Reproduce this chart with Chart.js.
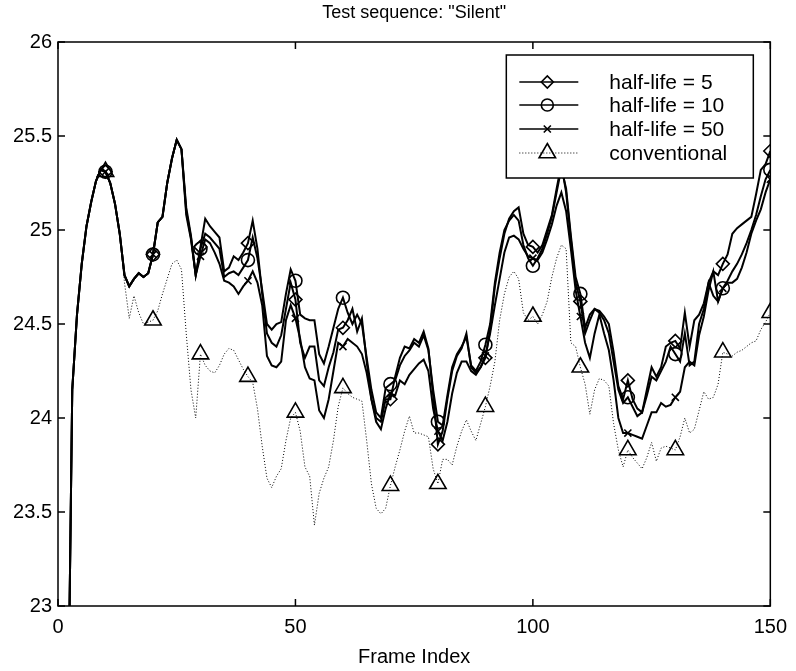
<!DOCTYPE html>
<html>
<head>
<meta charset="utf-8">
<script src="https://cdn.jsdelivr.net/npm/chart.js@4.4.0/dist/chart.umd.min.js"></script>
<style>
html, body { margin: 0; padding: 0; background: #fff; }
</style>
</head>
<body>
<canvas id="psnrChart" width="796" height="671"></canvas>
<script>
// frame 1..150, values
const frameIndex = Array.from({ length: 150 }, (_, i) => i + 1);
const markerFrames = [10, 20, 30, 40, 50, 60, 70, 80, 90, 100, 110, 120, 130, 140, 150];
const xTicks = [0, 50, 100, 150];
const yTicks = [23, 23.5, 24, 24.5, 25, 25.5, 26];

const halfLife5 = [
  21.0, 22.1, 24.15, 24.55, 24.82, 25.02, 25.15, 25.26, 25.32, 25.31,
  25.25, 25.14, 24.98, 24.76, 24.70, 24.74, 24.77, 24.75, 24.77, 24.87,
  25.04, 25.07, 25.25, 25.38, 25.48, 25.43, 25.12, 24.97, 24.76, 24.91,
  25.06, 25.02, 24.99, 24.96, 24.78, 24.80, 24.86, 24.84, 24.88, 24.93,
  25.05, 24.90, 24.66, 24.45, 24.40, 24.38, 24.44, 24.58, 24.72, 24.63,
  24.40, 24.32, 24.38, 24.38, 24.20, 24.17, 24.27, 24.35, 24.47, 24.48,
  24.52, 24.58, 24.46, 24.53, 24.30, 24.10, 24.00, 23.98, 24.10, 24.10,
  24.22, 24.32, 24.38, 24.37, 24.42, 24.40, 24.46, 24.37, 24.12, 23.86,
  23.93, 24.10, 24.25, 24.33, 24.37, 24.45, 24.27, 24.24, 24.27, 24.32,
  24.47, 24.70, 24.85, 24.98, 25.06, 25.10, 25.12, 24.98, 24.92, 24.91,
  24.88, 24.92, 25.00, 25.08, 25.22, 25.35, 25.20, 24.95, 24.72, 24.62,
  24.45, 24.52, 24.58, 24.57, 24.54, 24.50, 24.35, 24.17, 24.10, 24.20,
  24.10, 24.05, 24.03, 24.15, 24.27, 24.22, 24.27, 24.38, 24.40, 24.41,
  24.37, 24.56, 24.38, 24.52, 24.55, 24.61, 24.72, 24.78, 24.76, 24.82,
  24.87, 24.98, 25.01, 25.03, 25.05, 25.07, 25.19, 25.32, 25.35, 25.42
];

const halfLife10 = [
  21.0, 22.1, 24.15, 24.55, 24.82, 25.02, 25.15, 25.26, 25.32, 25.31,
  25.25, 25.14, 24.98, 24.76, 24.70, 24.74, 24.77, 24.75, 24.77, 24.87,
  25.04, 25.07, 25.25, 25.38, 25.48, 25.43, 25.10, 24.96, 24.76, 24.90,
  24.98, 24.96, 24.93, 24.90, 24.75, 24.77, 24.78, 24.76, 24.80, 24.84,
  24.96, 24.85, 24.68, 24.50, 24.47, 24.50, 24.51, 24.66, 24.79, 24.73,
  24.55, 24.53, 24.52, 24.52, 24.34, 24.29, 24.38, 24.48, 24.58, 24.64,
  24.56, 24.50, 24.55, 24.50, 24.32, 24.15, 24.03, 24.00, 24.16, 24.18,
  24.20, 24.28, 24.33, 24.36, 24.40, 24.38, 24.44, 24.36, 24.15, 23.98,
  23.96, 24.12, 24.27, 24.34, 24.38, 24.43, 24.28, 24.25, 24.30, 24.39,
  24.50, 24.72, 24.88, 25.00, 25.05, 25.08, 25.05, 24.92, 24.85, 24.81,
  24.85, 24.90, 24.98, 25.07, 25.20, 25.33, 25.22, 24.97, 24.75, 24.66,
  24.48, 24.55, 24.58, 24.56, 24.52, 24.45, 24.30, 24.15, 24.08, 24.11,
  24.06, 24.01, 24.03, 24.12, 24.22, 24.20, 24.25, 24.30, 24.38, 24.34,
  24.30, 24.45, 24.28, 24.30, 24.50, 24.58, 24.72, 24.65, 24.62, 24.69,
  24.73, 24.78, 24.82, 24.87, 24.93, 25.00, 25.08, 25.18, 25.27, 25.32
];

const halfLife50 = [
  21.0, 22.1, 24.15, 24.55, 24.82, 25.02, 25.15, 25.26, 25.32, 25.31,
  25.25, 25.14, 24.98, 24.76, 24.70, 24.74, 24.77, 24.75, 24.77, 24.87,
  25.04, 25.07, 25.25, 25.38, 25.48, 25.43, 25.08, 24.95, 24.76, 24.86,
  24.95, 24.93, 24.88, 24.82, 24.73, 24.72, 24.70, 24.66, 24.70, 24.73,
  24.78, 24.72, 24.60, 24.33, 24.28, 24.27, 24.30, 24.52, 24.60, 24.53,
  24.42, 24.27, 24.21, 24.20, 24.04, 24.00, 24.10, 24.25, 24.40, 24.38,
  24.42, 24.40, 24.38, 24.34, 24.24, 24.10, 23.98, 23.94, 24.05, 24.13,
  24.12, 24.20, 24.18, 24.23, 24.26, 24.29, 24.31, 24.25, 24.05, 23.93,
  23.88, 23.98, 24.13, 24.24, 24.30, 24.30, 24.25, 24.23, 24.27, 24.33,
  24.45, 24.60, 24.74, 24.88, 24.96, 24.97, 24.95, 24.90, 24.86, 24.85,
  24.84, 24.88, 24.95, 25.03, 25.13, 25.20, 25.10, 24.90, 24.68, 24.54,
  24.40, 24.32, 24.45, 24.55, 24.45, 24.36, 24.20, 24.00, 23.92, 23.92,
  23.91, 23.90, 23.89, 23.96, 24.03, 24.03, 24.08, 24.06, 24.07, 24.11,
  24.14, 24.27, 24.30, 24.28, 24.44, 24.54, 24.68, 24.78, 24.62, 24.69,
  24.72, 24.72, 24.74, 24.80, 24.88, 24.98, 25.05, 25.11, 25.20, 25.27
];

const conventional = [
  21.0, 22.1, 24.15, 24.55, 24.82, 25.02, 25.15, 25.26, 25.32, 25.31,
  25.25, 25.14, 24.98, 24.72, 24.53, 24.65, 24.56, 24.50, 24.51, 24.52,
  24.57, 24.66, 24.74, 24.82, 24.84, 24.79, 24.45, 24.15, 24.00, 24.34,
  24.28, 24.25, 24.24, 24.28, 24.34, 24.37, 24.36, 24.31, 24.26, 24.22,
  24.19, 24.05, 23.85, 23.68, 23.63, 23.69, 23.73, 23.88, 24.00, 24.03,
  23.93, 23.74, 23.69, 23.43, 23.60, 23.68, 23.74, 23.88, 24.06, 24.16,
  24.13, 24.11, 24.10, 24.09, 23.88, 23.65, 23.52, 23.49, 23.52, 23.64,
  23.74, 23.83, 23.93, 24.01, 23.92, 23.92, 23.91, 23.90, 23.73, 23.65,
  23.78, 23.78, 23.75, 23.85, 23.93, 23.99, 23.93, 23.88, 23.97, 24.06,
  24.17, 24.30, 24.52, 24.66, 24.75, 24.78, 24.74, 24.56, 24.52, 24.54,
  24.50, 24.55, 24.62, 24.75, 24.85, 24.92, 24.90, 24.40, 24.38, 24.27,
  24.18, 24.02, 24.15, 24.21, 24.20, 24.17, 23.97, 23.83, 23.74, 23.83,
  23.79, 23.76, 23.73, 23.79, 23.87, 23.77, 23.84, 23.85, 23.84, 23.83,
  23.90, 24.00, 23.92, 23.94, 24.04, 24.14, 24.10, 24.11, 24.18, 24.35,
  24.34, 24.33, 24.35, 24.36, 24.38, 24.40, 24.41, 24.47, 24.51, 24.56
];

const FONT = 'Liberation Sans, Arial, Helvetica, sans-serif';
const chartTitle = 'Test sequence: "Silent"';

function toPoints(values) {
  return frameIndex.map((f, i) => ({ x: f, y: values[i] }));
}

function markerRadius(r) {
  return function (ctx) {
    return ctx.raw && markerFrames.includes(ctx.raw.x) ? r : 0;
  };
}

function series(label, values, style, radius, dotted) {
  return {
    label: label,
    data: toPoints(values),
    borderColor: '#000',
    borderWidth: dotted ? 1 : 2,
    borderDash: dotted ? [1, 2] : [],
    pointStyle: style,
    pointRadius: markerRadius(radius),
    pointHoverRadius: 0,
    pointBorderColor: '#000',
    pointBackgroundColor: 'rgba(0,0,0,0)',
    pointBorderWidth: 1.6,
    tension: 0,
    fill: false
  };
}

// axes box with inward ticks, title over the axes, legend in the upper right
const plotFrame = {
  id: 'plotFrame',
  afterDraw(chart) {
    const { ctx, chartArea: a, scales } = chart;
    ctx.save();
    ctx.strokeStyle = '#000';
    ctx.lineWidth = 1.5;
    ctx.strokeRect(a.left, a.top, a.right - a.left, a.bottom - a.top);
    ctx.beginPath();
    xTicks.forEach(function (v) {
      const px = scales.x.getPixelForValue(v);
      ctx.moveTo(px, a.bottom); ctx.lineTo(px, a.bottom - 7);
      ctx.moveTo(px, a.top); ctx.lineTo(px, a.top + 7);
    });
    yTicks.forEach(function (v) {
      const py = scales.y.getPixelForValue(v);
      ctx.moveTo(a.left, py); ctx.lineTo(a.left + 7, py);
      ctx.moveTo(a.right, py); ctx.lineTo(a.right - 7, py);
    });
    ctx.stroke();

    ctx.fillStyle = '#000';
    ctx.font = '18px ' + FONT;
    ctx.textAlign = 'center';
    ctx.textBaseline = 'middle';
    ctx.fillText(chartTitle, (a.left + a.right) / 2, 13);

    const bx = a.right - 264, by = a.top + 13, bw = 247, bh = 123;
    ctx.fillStyle = '#fff';
    ctx.fillRect(bx, by, bw, bh);
    ctx.lineWidth = 1.5;
    ctx.strokeRect(bx, by, bw, bh);
    const rowY = [40, 63, 87, 111];
    chart.data.datasets.forEach(function (ds, i) {
      const y = a.top + rowY[i];
      ctx.save();
      ctx.strokeStyle = '#000';
      ctx.lineWidth = ds.borderWidth > 1 ? 1.5 : 1;
      ctx.setLineDash(ds.borderDash);
      ctx.beginPath();
      ctx.moveTo(bx + 13, y);
      ctx.lineTo(bx + 72, y);
      ctx.stroke();
      ctx.restore();
      ctx.save();
      ctx.strokeStyle = '#000';
      ctx.fillStyle = 'rgba(0,0,0,0)';
      ctx.lineWidth = 1.6;
      Chart.helpers.drawPoint(ctx, {
        pointStyle: ds.pointStyle,
        radius: ds.legendRadius,
        rotation: 0,
        borderWidth: 1.6
      }, bx + 41, y);
      ctx.restore();
      ctx.fillStyle = '#000';
      ctx.font = '21px ' + FONT;
      ctx.textBaseline = 'middle';
      ctx.textAlign = 'left';
      ctx.fillText(ds.label, bx + 103, y + 1);
    });
    ctx.restore();
  }
};

const datasets = [
  series('half-life = 5', halfLife5, 'rectRot', 6.5),
  series('half-life = 10', halfLife10, 'circle', 6.5),
  series('half-life = 50', halfLife50, 'crossRot', 5),
  series('conventional', conventional, 'triangle', 9.5, true)
];
datasets[0].legendRadius = 6;
datasets[1].legendRadius = 6;
datasets[2].legendRadius = 5;
datasets[3].legendRadius = 9.5;

new Chart(document.getElementById('psnrChart'), {
  type: 'line',
  data: { datasets: datasets },
  options: {
    responsive: false,
    animation: false,
    devicePixelRatio: 1,
    layout: { padding: { left: 0, right: 22, top: 42, bottom: 0 } },
    plugins: {
      legend: { display: false },
      tooltip: { enabled: false },
      title: { display: false }
    },
    scales: {
      x: {
        type: 'linear',
        min: 0,
        max: 150,
        afterBuildTicks: function (s) { s.ticks = xTicks.map(v => ({ value: v })); },
        afterFit: function (s) { s.height = 65; },
        grid: { display: false, drawTicks: false },
        border: { display: false },
        ticks: { padding: 9, color: '#000', font: { family: FONT, size: 20 } },
        title: {
          display: true,
          text: 'Frame Index',
          color: '#000',
          font: { family: FONT, size: 20 },
          padding: { top: 0, bottom: 2 }
        }
      },
      y: {
        type: 'linear',
        min: 23,
        max: 26,
        afterBuildTicks: function (s) { s.ticks = yTicks.map(v => ({ value: v })); },
        afterFit: function (s) { s.width = 58; },
        grid: { display: false, drawTicks: false },
        border: { display: false },
        ticks: { padding: 6, color: '#000', font: { family: FONT, size: 20 }, callback: v => String(v) }
      }
    }
  },
  plugins: [plotFrame]
});
</script>
</body>
</html>
